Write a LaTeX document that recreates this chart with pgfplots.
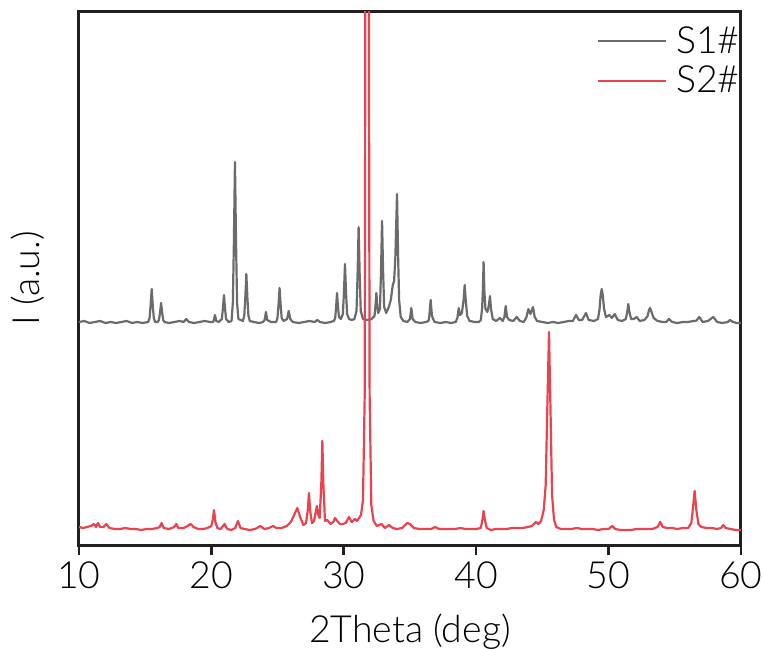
\documentclass[border=0pt]{standalone}
\usepackage{pgfplots}
\pgfplotsset{compat=1.18}
\usepackage{fontspec}
\setmainfont{Lato Light}
\definecolor{sone}{HTML}{6B6B6B}
\definecolor{stwo}{HTML}{E8434E}
\definecolor{axcol}{HTML}{231F20}
\begin{document}
\begin{tikzpicture}
\path[use as bounding box] (-39.5pt,-52pt) rectangle (341.5pt,272.5pt);
\begin{axis}[
    scale only axis,
    width=331pt, height=266.5pt,
    xmin=10, xmax=60, ymin=0, ymax=533,
    xtick={10,20,30,40,50,60},
    ytick=\empty,
    tick align=outside,
    xtick pos=bottom,
    major tick length=5pt,
    every tick/.style={axcol, line width=1.3pt},
    axis line style={axcol, line width=1.5pt},
    font=\fontsize{18.7}{22}\selectfont,
    /pgf/number format/assume math mode=true,
    xlabel={2Theta (deg)},
    ylabel={I (a.u.)},
    xlabel style={at={(axis description cs:0.5,0)}, anchor=base, yshift=-48.5pt},
    ylabel style={at={(axis description cs:-0.059,0.5)}, anchor=base},
    legend style={at={(axis description cs:1,1)}, anchor=north east, draw=none, fill=none,
        xshift=4.5pt, yshift=-3pt, row sep=1pt,
        nodes={inner sep=2pt}},
    legend cell align=left,
    legend image code/.code={\draw[#1] (0pt,0pt) -- (34pt,0pt); \path (36.5pt,0pt);},
]
\addplot[sone, line width=1.1pt, line join=round] coordinates {
(10.0,223) (10.4,224) (10.8,222) (11.2,223) (11.6,224) (12.0,222) (12.4,223) (12.8,222)
(13.2,223) (13.6,224) (14.0,222) (14.4,223) (14.8,222) (15.23,223)
(15.33,227) (15.41,239.5) (15.49,256) (15.57,239.5) (15.65,227) (15.75,223)
(15.94,223) (16.04,225) (16.12,232.5) (16.2,242) (16.28,232.5) (16.36,225) (16.46,223)
(16.8,222) (17.2,223) (17.6,224) (17.9,223) (18.1,226) (18.3,223) (18.7,222) (19.1,223)
(19.5,224) (19.9,223) (20.1,223)
(20.17,224) (20.27,230) (20.37,224) (20.55,223)
(20.79,226) (20.87,236.5) (20.95,250) (21.03,236.5) (21.11,226) (21.3,223)
(21.52,224) (21.62,242) (21.7,303) (21.78,383) (21.86,303) (21.94,242) (22.04,226)
(22.38,224) (22.48,229) (22.56,247) (22.64,271) (22.72,247) (22.8,229) (22.9,224)
(23.2,223) (23.6,222) (23.9,223) (24.02,225) (24.12,233) (24.22,225) (24.5,223) (24.89,223)
(24.99,227) (25.07,240) (25.15,257) (25.23,240) (25.31,227) (25.45,224)
(25.72,226) (25.84,234) (25.96,226) (26.15,223)
(26.6,222) (27.0,223) (27.4,224) (27.8,223) (28.0,225) (28.2,223) (28.6,222) (29.0,223) (29.25,224)
(29.35,227) (29.42,238) (29.49,252) (29.56,238) (29.64,228) (29.78,226)
(29.93,231) (30.01,252) (30.09,281) (30.17,252) (30.25,231) (30.4,226)
(30.6,225) (30.8,226)
(30.96,234) (31.04,270) (31.12,318) (31.2,270) (31.28,234) (31.45,226) (31.8,225) (32.1,226)
(32.32,229) (32.39,239) (32.46,252) (32.53,239) (32.6,232)
(32.73,236) (32.81,273) (32.89,324) (32.97,273) (33.05,238) (33.2,232)
(33.4,238) (33.55,245) (33.7,260) (33.8,264) (33.9,290) (34.02,351) (34.1,290) (34.18,245)
(34.3,228) (34.5,224) (34.8,223)
(35.0,226) (35.1,237) (35.2,226) (35.4,223) (35.8,222) (36.2,223) (36.4,224)
(36.46,229) (36.56,245) (36.66,229) (36.85,223) (37.3,222) (37.7,223) (38.1,222) (38.45,223)
(38.58,227) (38.68,237) (38.78,230) (38.92,232)
(39.05,245) (39.13,260) (39.21,245) (39.32,229) (39.5,224) (39.9,223) (40.2,223) (40.35,225)
(40.45,237) (40.5,253) (40.56,283) (40.62,253) (40.7,236) (40.85,233)
(40.96,240) (41.04,249) (41.12,236) (41.25,226) (41.5,224) (41.8,227) (42.0,224) (42.13,228)
(42.23,239) (42.33,228) (42.5,225) (42.8,224) (43.06,228) (43.3,224) (43.6,223) (43.8,228)
(43.94,236) (44.1,231) (44.29,238) (44.42,228) (44.6,224) (45.0,223) (45.4,222) (45.8,223)
(46.2,222) (46.6,223) (47.0,224) (47.3,224)
(47.54,230) (47.75,225) (48.0,225) (48.29,232) (48.5,225) (48.9,224) (49.2,226)
(49.32,236) (49.4,250) (49.48,256) (49.56,250) (49.66,236) (49.8,228) (50.06,230) (50.25,227)
(50.46,231) (50.7,225) (51.0,224) (51.3,226) (51.42,234) (51.49,241) (51.56,234) (51.7,226)
(51.9,226) (52.12,228) (52.35,224) (52.7,225) (52.95,229) (53.05,235) (53.13,237) (53.22,234)
(53.4,227) (53.7,224) (54.1,223) (54.35,223) (54.56,226) (54.8,223) (55.2,222) (55.6,223)
(56.0,223) (56.4,224) (56.6,224) (56.85,228) (57.1,223) (57.5,224) (57.91,228) (58.2,223)
(58.6,222) (59.0,223) (59.17,225) (59.4,223) (59.7,222) (60.0,222)
};
\addlegendentry{S1\#}
\addplot[stwo, line width=1.1pt, line join=round] coordinates {
(10.0,18) (10.3,17) (10.6,18) (10.9,19) (11.13,21) (11.28,18) (11.43,22) (11.6,18) (11.85,18)
(12.07,21) (12.3,17) (12.7,16) (13.1,16) (13.5,17) (13.9,16) (14.3,16) (14.7,15) (15.1,16)
(15.5,16) (15.9,17) (16.1,18) (16.24,22) (16.4,17) (16.8,16) (17.2,18) (17.35,21) (17.5,17)
(17.9,17) (18.2,19) (18.43,21) (18.65,18) (19.0,16) (19.4,16) (19.7,17) (20.0,19) (20.1,25)
(20.2,35) (20.3,23) (20.45,17) (20.7,16) (21.0,21) (21.2,16) (21.5,15) (21.8,17) (22.0,24)
(22.2,17) (22.5,16) (22.9,15) (23.3,16) (23.7,19) (24.0,16) (24.35,17) (24.65,19) (24.9,17)
(25.3,17) (25.7,19) (26.0,23) (26.25,30) (26.49,37) (26.7,28) (26.95,20) (27.15,22) (27.28,35)
(27.37,52) (27.46,34) (27.6,22) (27.75,24) (27.88,33) (27.97,39) (28.07,30) (28.18,27)
(28.3,60) (28.38,104) (28.46,60) (28.58,24) (28.75,25) (29.0,21) (29.2,23) (29.34,27)
(29.5,24) (29.7,21) (29.9,21) (30.15,22) (30.39,28) (30.6,23) (30.85,26) (31.0,24) (31.15,27)
(31.3,30) (31.45,45) (31.58,150) (31.66,800) (31.86,800) (31.95,150) (32.08,40) (32.25,24)
(32.5,19) (32.86,21) (33.1,17) (33.41,20) (33.7,17) (34.0,16) (34.4,17) (34.8,22) (35.0,21)
(35.3,17) (35.7,16) (36.2,16) (36.6,16) (36.9,18) (37.2,16) (37.6,16) (38.0,16) (38.4,16)
(38.8,17) (39.2,16) (39.6,16) (40.0,16) (40.35,17) (40.48,26) (40.56,34) (40.64,26) (40.8,17)
(41.1,15) (41.5,16) (41.9,16) (42.3,16) (42.7,17) (43.1,17) (43.5,17) (43.9,18) (44.2,19)
(44.52,23) (44.7,21) (44.9,24) (45.1,35) (45.25,60) (45.36,130) (45.5,213) (45.62,130)
(45.73,50) (45.88,25) (46.05,18) (46.4,16) (46.8,16) (47.2,16) (47.6,17) (48.0,16) (48.4,16)
(48.8,16) (49.2,15) (49.6,16) (50.0,16) (50.28,19) (50.5,16) (50.9,15) (51.3,15) (51.7,15)
(52.1,16) (52.5,16) (52.9,16) (53.3,16) (53.7,18) (53.9,23) (54.1,18) (54.4,17) (54.8,17)
(55.2,16) (55.6,17) (56.0,17) (56.25,22) (56.38,38) (56.5,54) (56.62,36) (56.78,21) (57.0,18)
(57.4,17) (57.8,17) (58.2,16) (58.5,17) (58.66,20) (58.85,17) (59.2,16) (59.6,15) (60.0,15)
};
\addlegendentry{S2\#}
\end{axis}
\end{tikzpicture}
\end{document}
